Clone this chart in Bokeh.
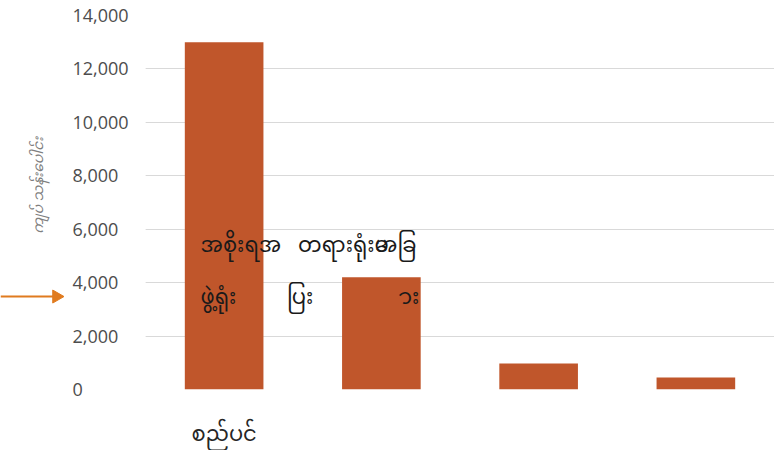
import math
from bokeh.plotting import figure
from bokeh.layouts import row
from bokeh.models import Range1d, Label, FixedTicker, Grid, NumeralTickFormatter
from bokeh.embed import file_html
from bokeh.resources import INLINE

categories = ["စည်ပင်", "", "", ""]
values = [13000, 4200, 970, 450]
y_ticks = [0, 2000, 4000, 6000, 8000, 10000, 12000, 14000]
y_title = "ကျပ် သန်းပေါင်း"
overlay_line1 = ["အစိုးရအ", "တရားရုံးမ", "အခြ"]
overlay_line1_x = [0.35, 0.97, 1.46]
overlay_line2 = ["ဖွဲ့ရုံး", "ပြး", "\u00a0ား"]
overlay_line2_x = [0.35, 0.90, 1.60]
overlay_y = [5320, 3370]
arrow_value = 3480

MM_FONT = "Noto Sans Myanmar, Padauk, Myanmar Text, Noto Sans"
MM_AXIS_FONT = "Open Sans, Noto Sans Myanmar, Padauk"
BAR = "#C0562B"
ARROW = "#E07B1F"
GRID = "#D9D9D9"

H = 450
TOP, BOTTOM = 15, 61
LEFT_W, MAIN_W = 145, 629
AXIS_PANEL = 81          # right-side axis panel of the left strip
STRIP_W = LEFT_W - AXIS_PANEL

y_range = Range1d(0, 14000)

# ---- left strip: arrow, y-axis title and (left-aligned) tick labels ----
a = figure(width=LEFT_W, height=H, x_range=Range1d(0, STRIP_W), y_range=y_range,
           x_axis_location=None, y_axis_location="right",
           output_backend="svg", toolbar_location=None,
           min_border_left=0, min_border_right=AXIS_PANEL, min_border_top=TOP, min_border_bottom=BOTTOM)
a.outline_line_color = None
a.xgrid.grid_line_color = None
a.ygrid.grid_line_color = None
a.yaxis.ticker = FixedTicker(ticks=y_ticks)
a.yaxis.formatter = NumeralTickFormatter(format="0,0")
a.yaxis.axis_line_color = None
a.yaxis.major_tick_line_color = None
a.yaxis.minor_tick_line_color = None
a.yaxis.major_label_text_font = "Open Sans"
a.yaxis.major_label_text_font_size = "18px"
a.yaxis.major_label_text_color = "#4D4D4D"
a.yaxis.major_label_standoff = 2

a.segment(x0=[0], y0=[arrow_value], x1=[54], y1=[arrow_value], line_color=ARROW, line_width=2)
a.scatter(x=[56], y=[arrow_value], marker="triangle", size=13, angle=-math.pi / 2,
          fill_color=ARROW, line_color=ARROW)

a.add_layout(Label(x=39, y=7640, text=y_title, angle=math.pi / 2,
                   text_font=MM_FONT, text_font_size="14px", text_font_style="italic",
                   text_color="#7F7F7F", text_align="center", text_baseline="middle"))

# ---- main chart ----
xs = [i + 0.5 for i in range(len(categories))]
p = figure(width=MAIN_W, height=H, x_range=Range1d(0, len(categories)), y_range=y_range,
           y_axis_location=None,
           output_backend="svg", toolbar_location=None,
           min_border_left=0, min_border_right=0, min_border_top=TOP, min_border_bottom=BOTTOM)
p.outline_line_color = None
p.background_fill_color = "white"
p.xgrid.grid_line_color = None
p.add_layout(Grid(dimension=1, ticker=FixedTicker(ticks=y_ticks), grid_line_color=GRID, grid_line_width=1))

p.vbar(x=xs, top=values, width=0.5, fill_color=BAR, line_color=None)

p.xaxis.ticker = FixedTicker(ticks=xs)
p.xaxis.major_label_overrides = {x: c for x, c in zip(xs, categories)}
p.xaxis.axis_line_color = None
p.xaxis.major_tick_line_color = None
p.xaxis.minor_tick_line_color = None
p.xaxis.major_label_text_font = MM_AXIS_FONT
p.xaxis.major_label_text_font_size = "21px"
p.xaxis.major_label_text_color = "#262626"
p.xaxis.major_label_standoff = 23

for texts, xpos, yv in [(overlay_line1, overlay_line1_x, overlay_y[0]), (overlay_line2, overlay_line2_x, overlay_y[1])]:
    for t, xv in zip(texts, xpos):
        p.add_layout(Label(x=xv, y=yv, text=t, text_font=MM_FONT, text_font_size="21px",
                           text_color="#1A1A1A", text_baseline="middle", text_align="left"))

layout = row(a, p, spacing=0)
open("out.html", "w").write(file_html(layout, INLINE))
